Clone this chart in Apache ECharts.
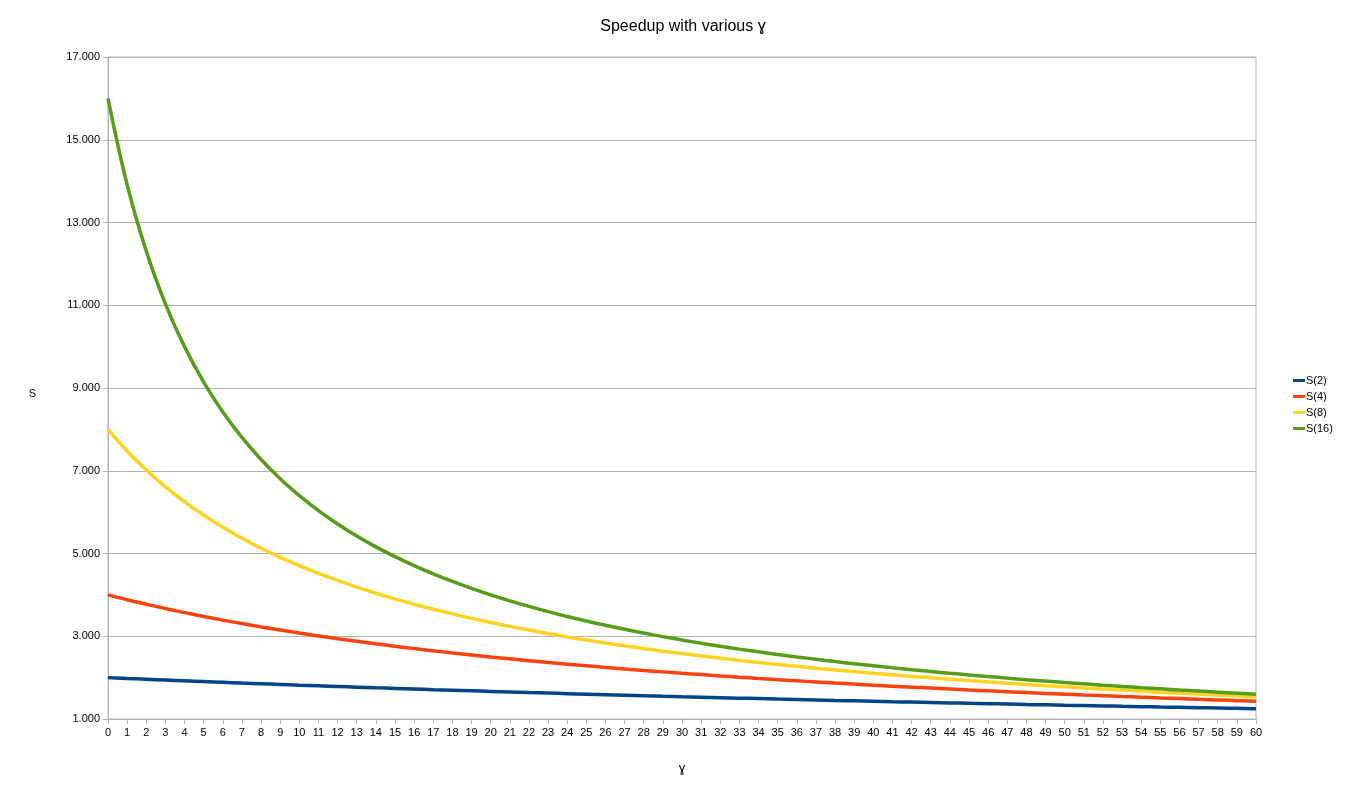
<!DOCTYPE html>
<html>
<head>
<meta charset="utf-8">
<script src="https://cdn.jsdelivr.net/npm/echarts@6/dist/echarts.min.js"></script>
<style>html,body{margin:0;padding:0;background:#fff;}#c{width:1366px;height:807px;}</style>
</head>
<body>
<div id="c"></div>
<script>
const gammas = [0,1,2,3,4,5,6,7,8,9,10,11,12,13,14,15,16,17,18,19,20,21,22,23,24,25,26,27,28,29,30,31,32,33,34,35,36,37,38,39,40,41,42,43,44,45,46,47,48,49,50,51,52,53,54,55,56,57,58,59,60];
const s2 = [2.000,1.980,1.961,1.942,1.923,1.905,1.887,1.869,1.852,1.835,1.818,1.802,1.786,1.770,1.754,1.739,1.724,1.709,1.695,1.681,1.667,1.653,1.639,1.626,1.613,1.600,1.587,1.575,1.563,1.550,1.538,1.527,1.515,1.504,1.493,1.481,1.471,1.460,1.449,1.439,1.429,1.418,1.408,1.399,1.389,1.379,1.370,1.361,1.351,1.342,1.333,1.325,1.316,1.307,1.299,1.290,1.282,1.274,1.266,1.258,1.250];
const s4 = [4.000,3.883,3.774,3.670,3.571,3.478,3.390,3.306,3.226,3.150,3.077,3.008,2.941,2.878,2.817,2.759,2.703,2.649,2.597,2.548,2.500,2.454,2.410,2.367,2.326,2.286,2.247,2.210,2.174,2.139,2.105,2.073,2.041,2.010,1.980,1.951,1.923,1.896,1.869,1.843,1.818,1.794,1.770,1.747,1.724,1.702,1.681,1.660,1.639,1.619,1.600,1.581,1.563,1.544,1.527,1.509,1.493,1.476,1.460,1.444,1.429];
const s8 = [8.000,7.477,7.018,6.612,6.250,5.926,5.634,5.369,5.128,4.908,4.706,4.520,4.348,4.188,4.040,3.902,3.774,3.653,3.540,3.433,3.333,3.239,3.150,3.065,2.985,2.909,2.837,2.768,2.703,2.640,2.581,2.524,2.469,2.417,2.367,2.319,2.273,2.228,2.186,2.145,2.105,2.067,2.030,1.995,1.961,1.928,1.896,1.865,1.835,1.806,1.778,1.751,1.724,1.699,1.674,1.649,1.626,1.603,1.581,1.559,1.538];
const s16 = [16.000,13.913,12.308,11.034,10.000,9.143,8.421,7.805,7.273,6.809,6.400,6.038,5.714,5.424,5.161,4.923,4.706,4.507,4.324,4.156,4.000,3.855,3.721,3.596,3.478,3.368,3.265,3.168,3.077,2.991,2.909,2.832,2.759,2.689,2.623,2.560,2.500,2.443,2.388,2.336,2.286,2.238,2.192,2.148,2.105,2.065,2.025,1.988,1.951,1.916,1.882,1.850,1.818,1.788,1.758,1.730,1.702,1.675,1.649,1.624,1.600];
const seriesNames = ['S(2)','S(4)','S(8)','S(16)'];
const seriesColors = ['#004586','#ff420e','#ffd320','#579d1c'];
const titleText = 'Speedup with various ɣ';
const xName = 'ɣ';
const yName = 'S';

const chart = echarts.init(document.getElementById('c'), null, {renderer:'canvas'});
const allData = [s2, s4, s8, s16];
const font = 'Liberation Sans, Arial, sans-serif';
chart.setOption({
  animation: false,
  backgroundColor: '#fff',
  textStyle: {fontFamily: font},
  title: {
    text: titleText, left: 'center', top: 14,
    textStyle: {fontFamily: font, fontSize: 16, fontWeight: 'normal', color: '#000'}
  },
  legend: {
    orient: 'vertical', left: 1288, top: 370, itemGap: 5,
    icon: 'rect', itemWidth: 12, itemHeight: 3,
    textStyle: {fontFamily: font, fontSize: 11, color: '#000', padding: [0,0,0,-4]},
    data: seriesNames
  },
  grid: {left: 108, right: 110, top: 57, bottom: 88, show: true, borderColor: '#b3b3b3', borderWidth: 1},
  xAxis: {
    type: 'category', data: gammas, boundaryGap: false,
    name: xName, nameLocation: 'middle', nameGap: 43,
    nameTextStyle: {fontFamily: font, fontSize: 13, color: '#000'},
    axisLine: {lineStyle: {color: '#b3b3b3'}},
    axisTick: {show: true, length: 5, lineStyle: {color: '#b3b3b3'}, alignWithLabel: true, interval: 0},
    axisLabel: {interval: 0, fontSize: 11, color: '#000', margin: 8, fontFamily: font},
    splitLine: {show: false}
  },
  yAxis: {
    type: 'value', min: 1, max: 17, interval: 2,
    name: yName, nameLocation: 'middle', nameGap: 72, nameRotate: 0,
    nameTextStyle: {fontFamily: font, fontSize: 11, color: '#000', verticalAlign: 'top'},
    axisLine: {show: true, lineStyle: {color: '#b3b3b3'}},
    axisTick: {show: true, length: 5, lineStyle: {color: '#b3b3b3'}},
    axisLabel: {fontSize: 11, color: '#000', margin: 8, fontFamily: font,
      formatter: v => v.toFixed(3)},
    splitLine: {show: true, lineStyle: {color: '#b3b3b3', width: 1}}
  },
  series: seriesNames.map((n, i) => ({
    name: n, type: 'line', data: allData[i],
    showSymbol: false, symbol: 'none',
    smooth: 0.4,
    lineStyle: {color: seriesColors[i], width: 3.5},
    itemStyle: {color: seriesColors[i]},
    z: 2 + i
  }))
});
</script>
</body>
</html>
